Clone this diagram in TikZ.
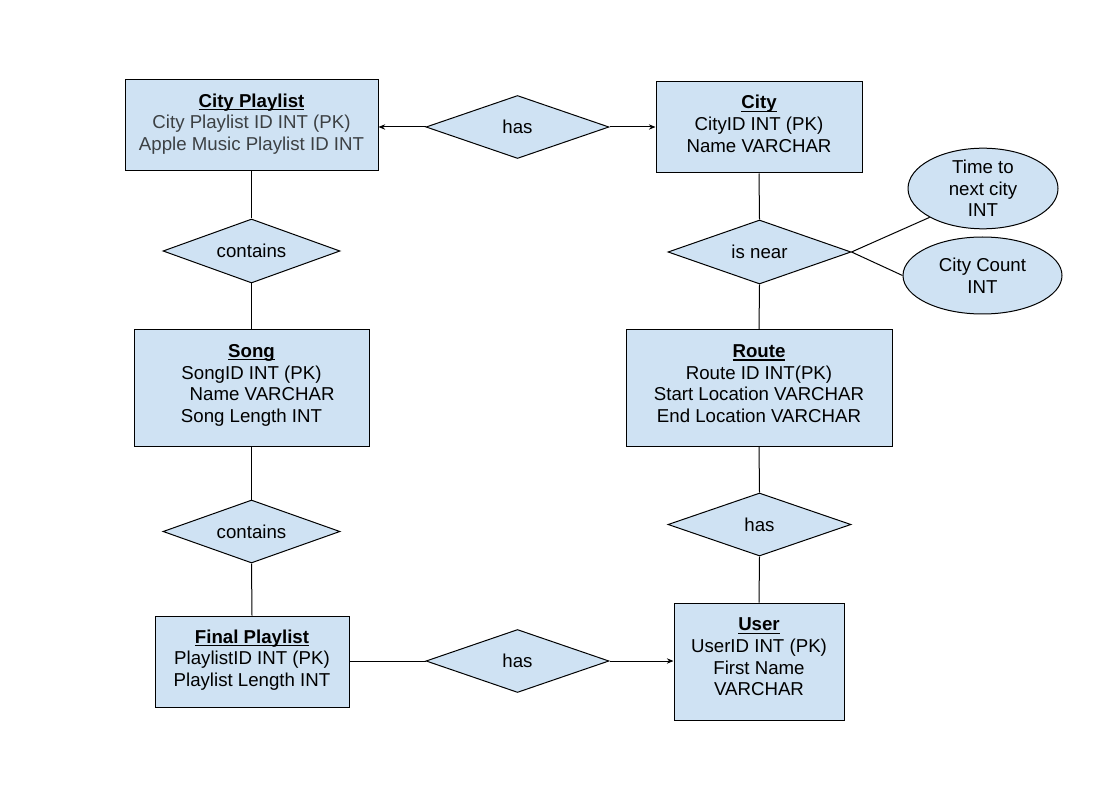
\documentclass[tikz,border=0pt]{standalone}
\usepackage{fontspec}
\setmainfont{Liberation Sans}
\usetikzlibrary{shapes.geometric,arrows.meta}
\definecolor{fillblue}{HTML}{CFE2F3}
\definecolor{cptext}{HTML}{3C4043}
\def\pxs{0.75pt}
\newcommand\myul[1]{\setbox0\hbox{\textbf{#1}}\rlap{\rule[-2.3pt]{\wd0}{0.9pt}}\box0}
\begin{document}
\begin{tikzpicture}[x=0.75pt,y=-0.75pt,
  every node/.style={font=\fontsize{14}{16.3}\selectfont},
  entity/.style={draw, fill=fillblue, line width=0.75pt, inner sep=0},
  rel/.style={diamond, aspect=2.9, draw, fill=fillblue, line width=0.75pt, inner sep=0},
  attr/.style={ellipse, draw, fill=fillblue, line width=0.75pt, inner sep=0, align=center},
  lbl/.style={align=center, inner sep=0},
  conn/.style={line width=0.75pt},
  arr/.style={conn, -{Stealth[length=5pt,width=4pt]}}
]
\useasboundingbox (0,0) rectangle (1102,798);

% entities
\node[entity, minimum width=253*\pxs, minimum height=91*\pxs] (cp) at (251.5,125.5) {};
\node[lbl, text=cptext] (cpt) at ([yshift=1pt]cp.center) {\textcolor{black}{\myul{City Playlist}}\\City Playlist ID INT (PK)\\Apple Music Playlist ID INT};

\node[entity, minimum width=206*\pxs, minimum height=91*\pxs] (city) at (759,127.5) {};
\node[lbl] (cityt) at ([yshift=2.8pt]city.center) {\myul{City}\\CityID INT (PK)\\Name VARCHAR};

\node[entity, minimum width=235*\pxs, minimum height=116*\pxs] (song) at (251.5,388) {};
\node[lbl] (songt) at ([yshift=2pt]song.center) {\myul{Song}\\SongID INT (PK)\\\hspace*{16pt}Name VARCHAR\\Song Length INT};

\node[entity, minimum width=266*\pxs, minimum height=116*\pxs] (route) at (759,388) {};
\node[lbl] (routet) at ([yshift=3.2pt]route.center) {\myul{Route}\\Route ID INT(PK)\\Start Location VARCHAR\\End Location VARCHAR};

\node[entity, minimum width=194*\pxs, minimum height=91*\pxs] (fp) at (252,661.5) {};
\node[lbl] (fpt) at ([yshift=1pt]fp.center) {\myul{Final Playlist}\\PlaylistID INT (PK)\\Playlist Length INT};

\node[entity, minimum width=170*\pxs, minimum height=117*\pxs] (user) at (759,661.5) {};
\node[lbl] (usert) at ([yshift=3.4pt]user.center) {\myul{User}\\UserID INT (PK)\\First Name\\VARCHAR};

% relationships
\node[rel, minimum width=183*\pxs, minimum height=63*\pxs] (h1) at (517.5,127) {has};
\node[rel, minimum width=177*\pxs, minimum height=64*\pxs] (c1) at (251.5,251) {contains};
\node[rel, minimum width=177*\pxs, minimum height=63*\pxs] (c2) at (251.5,531.5) {contains};
\node[rel, minimum width=183*\pxs, minimum height=64*\pxs] (near) at (759.5,252) {is near};
\node[rel, minimum width=183*\pxs, minimum height=63*\pxs] (h2) at (759.5,524.5) {has};
\node[rel, minimum width=183*\pxs, minimum height=63*\pxs] (h3) at (517.5,661) {has};

% attributes
\node[attr, minimum width=150*\pxs, minimum height=75*\pxs] (time) at (983,188.5) {Time to\\next city\\INT};
\node[attr, minimum width=159*\pxs, minimum height=77*\pxs] (cc) at (982.5,275.5) {City Count\\INT};

% connectors
\draw[arr] (h1.west) -- (h1.west -| cp.east);
\draw[arr] (h1.east) -- (h1.east -| city.west);
\draw[conn] (cp.south) -- (c1.north);
\draw[conn] (c1.south) -- (song.north);
\draw[conn] (song.south) -- (c2.north);
\draw[conn] (c2.south) -- (fp.north);
\draw[conn] (city.south) -- (near.north);
\draw[conn] (near.south) -- (route.north);
\draw[conn] (route.south) -- (h2.north);
\draw[conn] (h2.south) -- (user.north);
\draw[conn] (h3.west -| fp.east) -- (h3.west);
\draw[arr] (h3.east) -- (h3.east -| user.west);
\draw[conn] (near.east) -- (time.south west);
\draw[conn] (near.east) -- (cc.west);
\end{tikzpicture}
\end{document}
